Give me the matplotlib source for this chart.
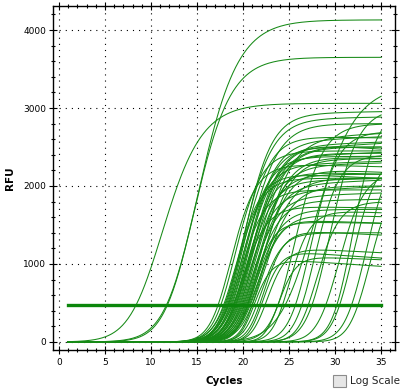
import numpy as np
import matplotlib
matplotlib.use("Agg")
import matplotlib.pyplot as plt
from matplotlib.patches import Rectangle

THRESHOLD = 480
NU = 1.7  # asymmetry of the amplification curves

# per well: threshold cycle, plateau RFU, curve width, drift after plateau (RFU/cycle)
ct = [
  8.4, 11.7, 11.8,
  18.2, 18.0, 17.6, 18.5, 18.3, 17.3, 18.7, 18.1, 18.9, 19.0,
  18.4, 19.2, 18.6, 19.4, 18.8, 19.1, 19.6, 19.3, 19.8, 19.5,
  20.0, 19.7, 20.2, 19.9, 20.4, 20.1, 20.6, 20.3, 20.8, 17.9,
  19.0, 18.4, 20.5, 19.2, 21.0, 20.7,
  21.2, 22.0, 22.4, 23.8, 21.8, 21.0, 20.5, 21.5,
  23.8, 24.6, 25.7, 26.4, 27.1, 27.5, 29.0, 30.2, 30.5, 31.8, 32.5, 24.3,
]
plateau = [
  3060, 4130, 3650,
  2920, 2850, 2450, 2800, 2650, 2300, 2550, 2100, 2450, 2500,
  2250, 2600, 1950, 2420, 2350, 2200, 2500, 2050, 2250, 1900,
  2400, 2150, 2600, 1850, 2250, 2000, 2350, 1800, 2100, 2200,
  1750, 2380, 1700, 2500, 2000, 1650,
  1080, 1180, 1220, 1110, 1450, 1580, 1550, 1400,
  2800, 3300, 2700, 2400, 1800, 3000, 2200, 3000, 2400, 2600, 2200, 1700,
]
width = [
  2.3, 2.3, 2.1,
  1.6, 1.7, 1.5, 1.75, 1.55, 1.45, 1.65, 1.4, 1.8, 1.5,
  1.5, 1.7, 1.4, 1.6, 1.55, 1.5, 1.7, 1.45, 1.6, 1.45,
  1.7, 1.5, 1.75, 1.5, 1.65, 1.5, 1.6, 1.45, 1.6, 1.5,
  1.4, 1.55, 1.45, 1.6, 1.6, 1.45,
  1.0, 1.0, 1.1, 1.0, 1.15, 1.15, 1.15, 1.2,
  1.6, 2.4, 1.5, 1.4, 1.3, 1.6, 1.5, 1.4, 1.4, 1.5, 1.4, 1.2,
]
drift = [
  0, 0, 0,
  2, 2, 0, 0, -2, -3, 5, 0, 6, 0,
  4, -8, 0, 0, 5, -3, 0, 3, 3, 6,
  -3, 0, 5, 4, -5, 5, 0, 2, 0, -6,
  -2, 0, 0, 4, 0, -3,
  -8, -8, -6, -5, -6, -4, -2, 0,
  0, 0, 0, 0, 0, 0, 0, 0, 0, 0, 0, -4,
]


def amplification(x, c, top, s, d):
  # richards curve placed so that it crosses the threshold at cycle c
  zc = -np.log((THRESHOLD / top) ** (-1.0 / NU) - 1.0)
  m = c - s * zc
  frac = (1.0 + np.exp(-(x - m) / s)) ** (-NU)
  return frac * (top + d * (x - c))


fig = plt.figure(figsize=(4.07, 3.90), dpi=100)
ax = fig.add_axes([53 / 407, 1 - 350 / 390, 342 / 407, 344 / 390])

cycles = np.linspace(1, 35, 341)
for c, top, s, d in zip(ct, plateau, width, drift):
  ax.plot(cycles, amplification(cycles, c, top, s, d), color="#168a16", linewidth=0.75)

ax.plot([1, 35], [THRESHOLD, THRESHOLD], color="#0b860b", linewidth=2.4)

ax.set_xlim(-0.65, 36.5)
ax.set_ylim(-103, 4308)
ax.set_xticks(np.arange(0, 36, 5))
ax.set_xticks(np.arange(0, 37, 1), minor=True)
ax.set_yticks(np.arange(0, 4001, 1000))
ax.set_yticks(np.arange(0, 4301, 200), minor=True)
ax.grid(True, which="major", color="black", linestyle=(0, (1, 4.5)), linewidth=0.8)
ax.tick_params(which="both", direction="inout", top=True, right=True, labelsize=6.5, width=0.8)
ax.tick_params(which="major", length=6)
ax.tick_params(which="minor", length=3.5)
ax.tick_params(axis="x", pad=3)
ax.tick_params(axis="y", pad=2)
for sp in ax.spines.values():
  sp.set_linewidth(1.0)

ax.set_xlabel("Cycles", fontsize=7.5, fontweight="bold", labelpad=6)
ax.set_ylabel("RFU", fontsize=7.5, fontweight="bold", labelpad=6)

# the "Log Scale" check box under the plot
fig.patches.append(Rectangle((333 / 407, 1 - 387 / 390), 13 / 407, 12 / 390, transform=fig.transFigure,
                             facecolor="#e6e6e6", edgecolor="#8c8c8c", linewidth=0.8))
fig.text(350 / 407, 1 - 381 / 390, "Log Scale", fontsize=7.5, va="center", ha="left", color="#222222")

fig.savefig("out.png", dpi=100)
